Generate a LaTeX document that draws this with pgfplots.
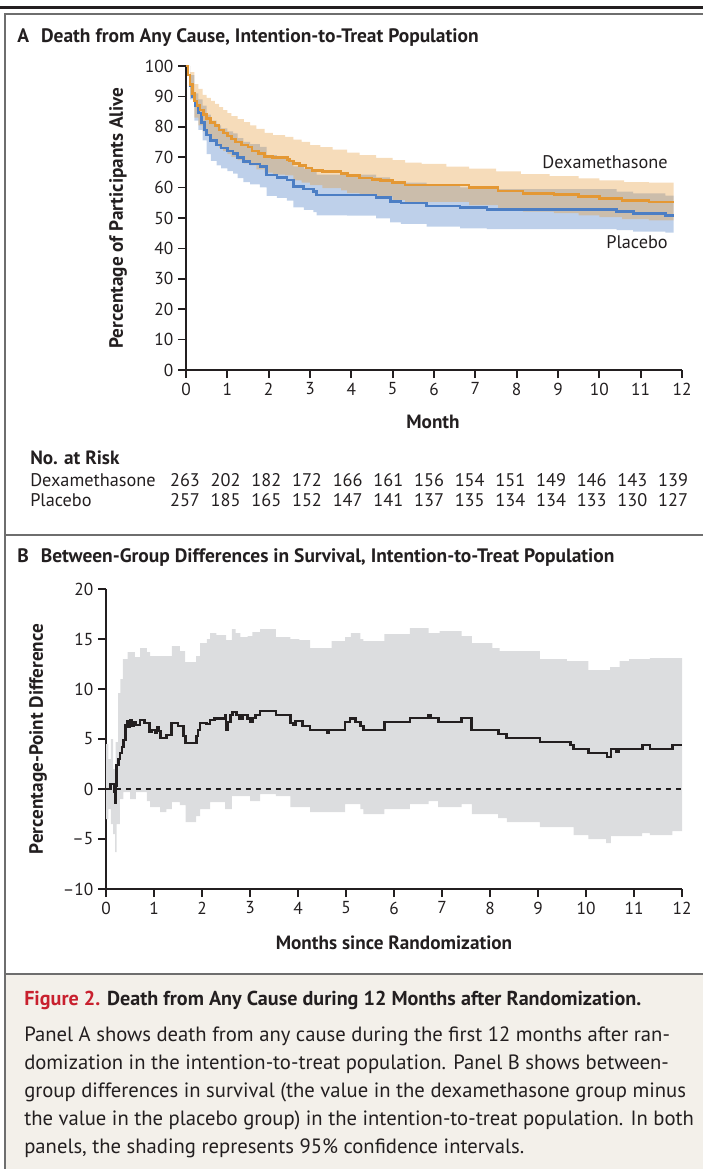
\documentclass[border=0pt]{standalone}
\usepackage{pgfplots}
\pgfplotsset{compat=1.18}
\usepgfplotslibrary{fillbetween}
\usepackage{fontspec}
\setmainfont{PT Sans}
\definecolor{ink}{RGB}{35,31,32}
\definecolor{oline}{RGB}{228,152,52}
\definecolor{bline}{RGB}{76,126,196}
\definecolor{bandgray}{RGB}{220,221,223}
\definecolor{beige}{RGB}{243,240,234}
\definecolor{framegray}{RGB}{110,110,110}
\definecolor{nejmred}{RGB}{200,32,46}
\newcommand\fTick{\fontsize{13}{15}\selectfont}
\newcommand\fTitle{\fontsize{14.6}{17}\selectfont\bfseries}
\newcommand\fLab{\fontsize{14.4}{17}\selectfont\bfseries}
\newcommand\fTab{\fontsize{13.7}{16}\selectfont}
\newcommand\fCapT{\fontsize{15.1}{18}\selectfont\bfseries}
\newcommand\fCap{\fontsize{15.5}{18}\selectfont}

\pgfplotstableread{
m v
0 100
0.05 97
0.1 94
0.15 91
0.2 88.5
0.27 87
0.34 85.5
0.42 84
0.5 82.8
0.6 81.5
0.7 80.5
0.8 79
0.9 78
1.0 77
1.1 76
1.2 75
1.35 74
1.5 73.3
1.6 72
1.75 71.2
1.9 70.3
2.1 69.8
2.45 69.2
2.5 68.8
2.6 68
2.75 67.2
2.9 66.5
3.05 65.6
3.3 65.2
3.75 64.6
3.9 63.9
4.2 63.2
4.5 62.7
4.7 62.3
5.0 61.6
5.3 60.9
6.85 60.0
7.55 58.9
8.15 58.1
8.9 57.7
9.5 57.0
10.0 56.4
10.55 55.7
11.2 55.3
11.8 55.3
}\dexline
\pgfplotstableread{
m v
0 100
0.1 98
0.2 94
0.3 92.5
0.4 90.5
0.5 89.5
0.6 88.5
0.7 87.5
0.8 86.5
0.9 85.5
1.0 84.5
1.1 83.5
1.25 82.5
1.4 81.5
1.55 80.5
1.7 79.3
1.9 78
2.1 77.3
2.4 76.7
2.6 75.8
2.8 75
3.0 74
3.25 73.3
3.55 72.5
3.9 71.5
4.2 70.7
4.6 69.8
5.0 69.0
5.3 68.2
5.7 67.8
6.3 66.9
6.85 66.2
7.5 65.3
8.1 64.4
8.8 63.8
9.5 63
10.0 62.4
10.6 61.8
11.2 61.6
11.8 61.6
}\dexup
\pgfplotstableread{
m v
0 100
0.1 90
0.2 83
0.3 80.5
0.4 78.5
0.5 77
0.6 75.5
0.7 74.5
0.8 73
0.9 72
1.0 71
1.1 70
1.25 69
1.4 68
1.55 67.3
1.7 66
1.9 64.9
2.1 64.3
2.4 64.0
2.6 62.4
2.8 61.6
3.0 60.8
3.3 59.8
3.75 59.1
3.9 58.2
4.2 57.6
4.6 57
5.0 56.0
5.3 55.3
6.85 54.2
7.55 53
8.15 52.1
8.9 51.6
9.5 50.9
10.0 50.3
10.55 49.6
11.2 49.2
11.8 49.2
}\dexlo
\pgfplotstableread{
m v
0 100
0.05 97
0.1 93.5
0.15 90
0.22 87
0.3 84.5
0.38 81.5
0.45 79
0.5 77.3
0.6 75.5
0.74 74
0.85 73
1.0 72
1.14 71.3
1.25 69.8
1.39 68.5
1.55 67.8
1.79 66.9
1.95 64.1
2.2 63.3
2.44 62.5
2.6 60.3
2.85 59.5
3.08 58.7
3.16 57.6
3.9 57.6
4.6 56.7
4.94 55.4
5.2 54.9
5.82 54.0
6.63 53.4
7.28 52.8
10.42 52.1
10.82 51.5
11.6 50.9
11.8 50.9
}\plaline
\pgfplotstableread{
m v
0 100
0.1 97
0.2 91
0.3 89
0.4 87
0.5 84
0.6 82
0.74 80.5
0.85 79.5
1.0 78.5
1.14 77.8
1.25 76.3
1.39 75
1.55 74.3
1.79 73.4
1.95 70.7
2.2 69.9
2.44 69.1
2.6 67
2.85 66.2
3.08 65.4
3.16 64.3
3.9 64.3
4.6 63.4
4.94 62.1
5.2 61.6
5.82 60.7
6.63 60.1
7.28 59.5
10.42 58.7
10.82 58.1
11.6 57.4
11.8 57.4
}\plaup
\pgfplotstableread{
m v
0 100
0.1 89
0.2 82
0.3 79
0.4 75.5
0.5 71
0.6 68.8
0.74 67.3
0.85 66.3
1.0 65.4
1.14 64.6
1.25 63.1
1.39 61.8
1.55 61.1
1.79 60.1
1.95 57.3
2.2 56.6
2.44 55.7
2.6 53.5
2.85 52.7
3.08 51.9
3.16 50.9
3.9 50.8
4.6 49.9
4.94 48.6
5.2 48.1
5.82 47.2
6.63 46.6
7.28 46.3
10.42 46.0
10.82 45.5
11.6 45.2
11.8 45.2
}\plalo
\pgfplotstableread{
m v
0 0
0.1 0.5
0.17 -0.3
0.19 -1.4
0.21 0.3
0.22 2.4
0.26 3.0
0.29 3.6
0.33 4.2
0.36 4.9
0.4 6.4
0.44 6.8
0.47 6.2
0.5 6.9
0.54 6.3
0.58 6.7
0.62 6.4
0.71 6.9
0.8 6.6
0.9 5.7
0.95 5.9
1.02 5.6
1.06 6.2
1.1 5.8
1.13 5.1
1.26 5.4
1.37 6.6
1.5 6.3
1.62 5.3
1.66 4.6
1.88 5.3
1.92 5.9
1.96 6.6
2.1 6.5
2.17 6.9
2.26 7.05
2.48 7.4
2.5 5.9
2.53 6.7
2.6 7.4
2.64 7.7
2.72 7.4
2.78 7.05
2.85 7.4
2.95 7.05
3.0 6.7
3.05 7.1
3.12 7.4
3.21 7.8
3.54 7.4
3.84 6.6
3.9 6.4
3.95 6.8
4.1 6.3
4.25 5.9
4.62 5.6
4.64 5.9
4.98 6.7
5.08 7.05
5.2 6.7
5.3 6.3
5.36 5.9
5.8 6.7
6.33 7.1
6.72 7.4
6.77 7.1
6.92 6.7
7.41 7.1
7.62 5.9
8.17 5.5
8.35 5.1
9.04 4.7
9.67 4.4
9.74 4.0
10.05 3.6
10.44 3.2
10.52 4.0
10.64 3.7
10.68 4.0
11.17 4.4
11.33 4.0
11.8 4.4
12 4.4
}\diffline
\pgfplotstableread{
m v
0 4.5
0.05 3.0
0.1 5
0.15 2
0.2 4.7
0.25 9.6
0.3 11
0.35 13
0.45 13.7
0.6 13.2
0.71 14.1
0.85 13.7
0.92 13.3
1.37 14.3
1.54 13.8
1.65 12.7
1.88 13.3
1.96 14.6
2.1 15.0
2.17 15.6
2.3 15.4
2.5 14.9
2.62 16.0
2.7 15.6
2.8 15.2
2.95 15.3
3.05 15.7
3.21 16.0
3.54 15.2
3.84 15.0
4.03 14.9
4.25 14.1
4.7 14.8
4.98 15.2
5.1 15.6
5.3 15.0
5.36 14.8
5.8 15.5
6.33 16.1
6.72 15.6
6.95 15.8
7.41 15.3
7.62 14.6
8.05 14.1
8.2 13.8
9.04 13.0
9.6 12.8
10.05 11.9
10.5 12.2
10.7 12.8
10.9 13.0
11.33 13.1
12 13.1
}\diffup
\pgfplotstableread{
m v
0 -3.0
0.05 -2
0.1 -3.5
0.15 -4.5
0.19 -6.3
0.22 -3.5
0.29 -1.0
0.36 -0.3
0.5 -1.0
0.62 -0.3
0.85 -1.2
0.92 -1.8
1.13 -2.3
1.26 -2.0
1.37 -1.3
1.54 -1.6
1.66 -3.3
1.88 -2.7
1.96 -2.0
2.17 -1.3
2.48 -2.0
2.62 -0.7
3.0 -1.2
3.21 -0.5
3.54 -0.7
3.84 -1.8
4.25 -2.3
4.98 -1.5
5.3 -2.0
5.36 -2.5
5.8 -2.0
6.33 -1.5
6.72 -1.2
6.92 -1.8
7.41 -1.5
7.62 -2.5
8.17 -2.9
8.35 -3.3
9.04 -3.8
9.74 -4.6
10.05 -5.0
10.42 -5.4
10.52 -4.7
11.17 -4.4
11.33 -4.6
11.8 -4.2
12 -4.2
}\difflo

\pgfplotsset{
  nejm/.style={
    scale only axis, axis lines=left, clip=false,
    axis line style={-, line width=1.3pt, color=ink},
    tick style={line width=1.3pt, color=ink},
    major tick length=6pt, tick align=outside,
    /pgf/number format/assume math mode=true,
    tick label style={font=\fTick, color=ink},
    xmin=0, xmax=12, xtick={0,...,12},
  }
}

\begin{document}
\begin{tikzpicture}
\begin{scope}[x=0.75pt,y=-0.75pt]
\useasboundingbox (0,0) rectangle (703,1169);
\fill[beige] (5,974) rectangle (703,1169);
\fill[ink] (0,6) rectangle (703,9);
\draw[framegray, line width=1.5pt] (5,1169) -- (5,14) -- (703,14);
\draw[framegray, line width=1.5pt] (5,535) -- (703,535);
\draw[framegray, line width=1.5pt] (5,974) -- (703,974);
% panel titles
\node[anchor=base west, font=\fTitle, color=ink, inner sep=0] at (17,43) {A\hspace{9pt}Death from Any Cause, Intention-to-Treat Population};
\node[anchor=base west, font=\fTitle, color=ink, inner sep=0] at (17,562) {B\hspace{9pt}Between-Group Differences in Survival, Intention-to-Treat Population};
% axis labels
\node[rotate=90, font=\fLab, color=ink] at (118,218) {Percentage of Participants Alive};
\node[font=\fLab, color=ink] at (433,422) {Month};
\node[rotate=90, font=\fLab, color=ink] at (38,739) {Percentage-Point Difference};
\node[font=\fLab, color=ink] at (394,943) {Months since Randomization};
% annotations
\node[anchor=base east, font=\fTab, color=ink, inner sep=0] at (668,169) {Dexamethasone};
\node[anchor=base east, font=\fTab, color=ink, inner sep=0] at (668,249) {Placebo};
% risk table
\node[anchor=base west, font=\fLab, color=ink, inner sep=0] at (30,464) {No. at Risk};
\node[anchor=base west, font=\fTab, color=ink, inner sep=0] at (30,486) {Dexamethasone};
\node[anchor=base west, font=\fTab, color=ink, inner sep=0] at (30,506) {Placebo};
\foreach \v [count=\i from 0] in {263,202,182,172,166,161,156,154,151,149,146,143,139}
  \node[anchor=base, font=\fTab, color=ink, inner sep=0] at ({185+40.67*\i},486) {\v};
\foreach \v [count=\i from 0] in {257,185,165,152,147,141,137,135,134,134,133,130,127}
  \node[anchor=base, font=\fTab, color=ink, inner sep=0] at ({185+40.67*\i},506) {\v};
% caption
\node[anchor=base west, inner sep=0, font=\fCapT, color=ink] at (24,1005) {\textcolor{nejmred}{Figure 2.} Death from Any Cause during 12 Months after Randomization.};
\node[anchor=base west, inner sep=0, font=\fCap, color=ink] at (24,1041) {Panel A shows death from any cause during the first 12 months after ran-};
\node[anchor=base west, inner sep=0, font=\fCap, color=ink] at (24,1069) {domization in the intention-to-treat population. Panel B shows between-};
\node[anchor=base west, inner sep=0, font=\fCap, color=ink] at (24,1097) {group differences in survival (the value in the dexamethasone group minus};
\node[anchor=base west, inner sep=0, font=\fCap, color=ink] at (24,1125) {the value in the placebo group) in the intention-to-treat population. In both};
\node[anchor=base west, inner sep=0, font=\fCap, color=ink] at (24,1153) {panels, the shading represents 95\% confidence intervals.};
\end{scope}

% Panel A
\begin{axis}[nejm, at={(139.5pt,-277.5pt)}, anchor=south west,
  width=372pt, height=228pt, ymin=0, ymax=100, ytick={0,10,...,100}]
\addplot[name path=pu, draw=none, const plot, forget plot] table[x=m,y=v] {\plaup};
\addplot[name path=pl, draw=none, const plot, forget plot] table[x=m,y=v] {\plalo};
\addplot[fill=bline, fill opacity=0.36, draw=none] fill between[of=pu and pl];
\addplot[name path=du, draw=none, const plot, forget plot] table[x=m,y=v] {\dexup};
\addplot[name path=dl, draw=none, const plot, forget plot] table[x=m,y=v] {\dexlo};
\addplot[fill=oline, fill opacity=0.34, draw=none] fill between[of=du and dl];
\addplot[const plot, bline, line width=2pt] table[x=m,y=v] {\plaline};
\addplot[const plot, oline, line width=2pt] table[x=m,y=v] {\dexline};
\end{axis}

% Panel B
\begin{axis}[nejm, at={(79.5pt,-666.75pt)}, anchor=south west,
  width=432pt, height=225pt, ymin=-10, ymax=20, ytick={-10,-5,...,20},
  yticklabels={\textendash10,\textendash5,0,5,10,15,20}]
\addplot[name path=gu, draw=none, const plot, forget plot] table[x=m,y=v] {\diffup};
\addplot[name path=gl, draw=none, const plot, forget plot] table[x=m,y=v] {\difflo};
\addplot[fill=bandgray, draw=none] fill between[of=gu and gl];
\addplot[ink, line width=0.8pt, dash pattern=on 4pt off 3.5pt] coordinates {(0,0) (12,0)};
\addplot[const plot, ink, line width=2pt] table[x=m,y=v] {\diffline};
\end{axis}
\end{tikzpicture}
\end{document}
